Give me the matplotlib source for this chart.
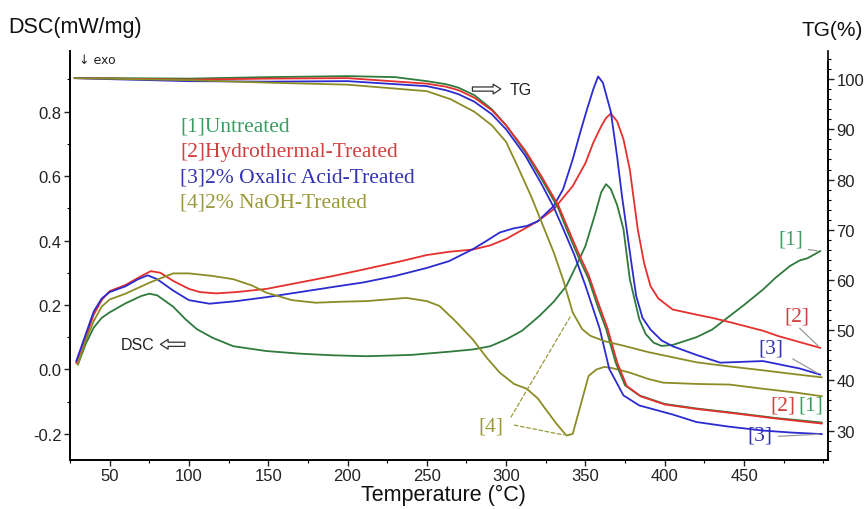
import numpy as np
import matplotlib.pyplot as plt
from matplotlib.ticker import MultipleLocator

plt.rcParams['font.family'] = ['Liberation Sans', 'DejaVu Sans']

# DSC curves (mW/mg), left axis
t_dsc_1 = [30, 35, 40, 45, 50, 60, 70, 75, 80, 90, 98, 105, 115, 128, 149, 170, 190, 212, 240, 264, 279,
           290, 300, 310, 321, 330, 338, 345, 350, 356, 360, 363, 366, 370, 374, 378, 384, 388, 393, 398,
           405, 420, 430, 441, 450, 462, 470, 479, 485, 490, 498]
dsc_1 = [0.015, 0.08, 0.13, 0.16, 0.177, 0.205, 0.228, 0.235, 0.23, 0.195, 0.155, 0.125, 0.098, 0.072,
         0.057, 0.049, 0.044, 0.041, 0.045, 0.055, 0.062, 0.072, 0.093, 0.12, 0.166, 0.21, 0.259, 0.33,
         0.383, 0.48, 0.55, 0.575, 0.56, 0.51, 0.435, 0.28, 0.155, 0.11, 0.083, 0.073, 0.076, 0.10, 0.124,
         0.166, 0.2, 0.248, 0.285, 0.321, 0.338, 0.345, 0.367]

t_dsc_2 = [29, 35, 40, 45, 50, 60, 70, 76, 82, 90, 100, 107, 117, 130, 149, 170, 191, 210, 233, 250, 264,
           279, 290, 300, 311, 320, 330, 342, 350, 355, 360, 363, 366, 370, 374, 378, 383, 387, 391, 396,
           405, 420, 430, 440, 451, 462, 472, 485, 498]
dsc_2 = [0.02, 0.10, 0.17, 0.215, 0.243, 0.262, 0.29, 0.305, 0.30, 0.275, 0.25, 0.24, 0.236, 0.24, 0.25,
         0.27, 0.29, 0.31, 0.335, 0.355, 0.365, 0.372, 0.385, 0.405, 0.435, 0.46, 0.497, 0.569, 0.64,
         0.704, 0.755, 0.78, 0.794, 0.77, 0.714, 0.62, 0.435, 0.33, 0.259, 0.22, 0.186, 0.17, 0.16, 0.148,
         0.134, 0.12, 0.103, 0.085, 0.067]

t_dsc_3 = [29, 35, 40, 45, 50, 60, 68, 74, 80, 90, 100, 113, 130, 150, 170, 191, 210, 230, 250, 264, 279,
           288, 296, 305, 313, 320, 330, 336, 342, 347, 351, 355, 358, 361, 366, 370, 373, 376, 379, 382,
           386, 391, 398, 405, 420, 435, 451, 462, 472, 485, 498]
dsc_3 = [0.026, 0.11, 0.18, 0.22, 0.24, 0.258, 0.28, 0.292, 0.28, 0.245, 0.215, 0.204, 0.212, 0.225, 0.24,
         0.256, 0.27, 0.29, 0.315, 0.336, 0.373, 0.40, 0.425, 0.438, 0.445, 0.46, 0.507, 0.56, 0.652, 0.74,
         0.807, 0.87, 0.909, 0.89, 0.80, 0.66, 0.54, 0.435, 0.33, 0.228, 0.16, 0.124, 0.09, 0.072, 0.045,
         0.021, 0.024, 0.026, 0.016, 0.003, -0.016]

t_dsc_4 = [30, 35, 40, 45, 50, 60, 75, 90, 100, 115, 128, 140, 149, 165, 180, 195, 212, 237, 250, 258, 268,
           279, 288, 296, 305, 313, 320, 325, 332, 338, 342, 347, 352, 357, 362, 366, 372, 378, 390, 399,
           420, 441, 462, 483, 499]
dsc_4 = [0.016, 0.09, 0.15, 0.195, 0.217, 0.235, 0.269, 0.298, 0.298, 0.29, 0.28, 0.26, 0.238, 0.215,
         0.207, 0.21, 0.212, 0.222, 0.212, 0.197, 0.15, 0.093, 0.035, -0.01, -0.045, -0.06, -0.09, -0.124,
         -0.17, -0.205, -0.2, -0.11, -0.02, 0.0, 0.008, 0.005, -0.002, -0.01, -0.03, -0.041, -0.045,
         -0.047, -0.06, -0.072, -0.083]

# TG curves (%), right axis
t_tg_1 = [28, 50, 100, 150, 200, 230, 250, 262, 270, 280, 291, 300, 312, 322, 333, 338, 345, 352, 358, 363,
          369, 375, 384, 400, 420, 442, 470, 499]
tg_1 = [100.2, 100.2, 100.1, 100.4, 100.6, 100.4, 99.6, 99.0, 98.3, 96.8, 94.0, 90.8, 85.5, 80.3, 74.2,
        70.2, 65.0, 60.2, 54.5, 50.3, 43.6, 39.0, 37.0, 35.3, 34.4, 33.6, 32.5, 31.6]

t_tg_2 = [28, 100, 150, 200, 250, 262, 270, 280, 291, 300, 312, 322, 333, 338, 345, 352, 358, 364, 370,
          376, 385, 400, 420, 442, 470, 499]
tg_2 = [100.2, 99.9, 100.1, 100.2, 99.1, 98.5, 97.8, 96.3, 93.8, 90.8, 85.8, 80.8, 74.8, 71.0, 65.8, 61.0,
        55.5, 50.3, 43.6, 38.9, 36.8, 35.2, 34.3, 33.5, 32.4, 31.4]

t_tg_3 = [28, 50, 100, 150, 200, 250, 262, 270, 280, 291, 300, 312, 322, 330, 336, 343, 350, 359, 365,
          374, 384, 405, 420, 440, 462, 480, 499]
tg_3 = [100.2, 100.0, 99.6, 99.5, 99.6, 98.6, 97.8, 97.0, 95.5, 93.0, 90.0, 84.8, 79.3, 74.5, 70.2, 65.0,
        58.9, 50.3, 42.3, 37.0, 35.0, 33.2, 31.7, 30.8, 30.0, 29.6, 29.3]

t_tg_4 = [28, 100, 150, 200, 250, 265, 280, 291, 300, 308, 316, 323, 330, 336, 342, 348, 353, 362, 374,
          390, 405, 420, 440, 462, 480, 499]
tg_4 = [100.2, 99.8, 99.3, 98.9, 97.6, 96.0, 93.5, 90.8, 87.5, 82.1, 76.5, 71.0, 65.5, 60.0, 53.5, 50.2,
        48.9, 47.8, 46.9, 45.6, 44.6, 43.6, 42.8, 42.0, 41.3, 40.6]

names = ['[1]Untreated', '[2]Hydrothermal-Treated', '[3]2% Oxalic Acid-Treated', '[4]2% NaOH-Treated']
line_cols = ['#2f7a3c', '#e5302d', '#2b2bd0', '#8c8c26']
text_cols = ['#3a9e62', '#d0403f', '#3434b0', '#9a9a3c']

fig = plt.figure(figsize=(8.68, 5.10), dpi=100)
ax = fig.add_axes([0.0806, 0.0967, 0.8734, 0.8013])
ax2 = ax.twinx()

dsc_t = [t_dsc_1, t_dsc_2, t_dsc_3, t_dsc_4]
dsc_v = [dsc_1, dsc_2, dsc_3, dsc_4]
tg_t = [t_tg_1, t_tg_2, t_tg_3, t_tg_4]
tg_v = [tg_1, tg_2, tg_3, tg_4]
for i in range(4):
    ax.plot(dsc_t[i], dsc_v[i], color=line_cols[i], lw=1.3)
    ax2.plot(tg_t[i], tg_v[i], color=line_cols[i], lw=1.3)

ax.set_xlim(25, 503)
ax.set_ylim(-0.28, 0.988)
ax2.set_ylim(24.2, 105.6)

ax.xaxis.set_minor_locator(MultipleLocator(25))
ax.yaxis.set_minor_locator(MultipleLocator(0.1))
ax2.set_yticks(range(30, 101, 10))
ax2.yaxis.set_minor_locator(MultipleLocator(2))
ax.set_xticks(range(50, 451, 50))
ax.set_yticks([-0.2, 0.0, 0.2, 0.4, 0.6, 0.8])
ax.set_yticklabels(['-0.2', '0.0', '0.2', '0.4', '0.6', '0.8'])

for a in (ax, ax2):
    a.spines['top'].set_visible(False)
    a.tick_params(which='major', length=4, width=1, labelsize=12, colors='#222222', pad=2)
    a.tick_params(which='minor', length=2, width=0.8)
ax2.spines['right'].set_bounds(24.2, 103.4)
for s in ('left', 'bottom', 'right'):
    ax2.spines[s].set_linewidth(1.2)
    ax.spines[s].set_linewidth(1.2)

fig.text(0.010, 1 - 28 / 510, 'DSC(mW/mg)', fontsize=15.5, va='center', ha='left', color='#111111')
fig.text(0.994, 1 - 30 / 510, 'TG(%)', fontsize=15, va='center', ha='right', color='#111111')
fig.text(443 / 868, 1 - 495 / 510, 'Temperature (°C)', fontsize=15.5, va='center', ha='center',
         color='#111111')

# legend-like labels
for i in range(4):
    ax.text(180 / 868, 1 - (127 + 25.3 * i) / 510, names[i], transform=fig.transFigure,
            family='Liberation Serif', fontsize=15.5, color=text_cols[i], va='center', ha='left')

ax.text(31, 0.963, '↓ exo', fontsize=9, color='#222222', va='center', ha='left',
        family='DejaVu Sans')

arrow = dict(arrowstyle='simple,head_length=0.55,head_width=0.7,tail_width=0.3', fc='white',
             ec='#333333', lw=0.9)
ax.annotate('', xy=(298.4, 0.87), xytext=(277.0, 0.87), arrowprops=arrow)
ax.text(302, 0.87, 'TG', fontsize=11.5, va='center', ha='left', color='#222222')
ax.annotate('', xy=(80.3, 0.078), xytext=(99.2, 0.078), arrowprops=arrow)
ax.text(78.4, 0.078, 'DSC', fontsize=11.5, va='center', ha='right', color='#222222')

lab = dict(family='Liberation Serif', fontsize=15.5, va='center', ha='center')
lead = dict(arrowstyle='-', color='#9a9a9a', lw=0.9)
ax.text(479.8, 0.404, '[1]', color=text_cols[0], **lab)
ax.annotate('', xy=(t_dsc_1[-1], dsc_1[-1]), xytext=(488.8, 0.373), arrowprops=lead)
ax.text(483.2, 0.166, '[2]', color=text_cols[1], **lab)
ax.annotate('', xy=(t_dsc_2[-1], dsc_2[-1]), xytext=(483.8, 0.134), arrowprops=lead)
ax.text(467.2, 0.067, '[3]', color=text_cols[2], **lab)
ax.annotate('', xy=(t_dsc_3[-1], dsc_3[-1]), xytext=(479.2, 0.037), arrowprops=lead)
ax.text(474.3, -0.109, '[2]', color=text_cols[1], **lab)
ax.text(492.4, -0.109, '[1]', color=text_cols[0], **lab)
ax.text(459.8, -0.202, '[3]', color=text_cols[2], **lab)
ax2.annotate('', xy=(t_tg_3[-1], tg_3[-1]), xytext=(469.9, -0.208), textcoords=ax.transData,
             arrowprops=lead)

ax.text(290.7, -0.176, '[4]', color=text_cols[3], **lab)
lead4 = dict(arrowstyle='-', color='#9a9a3c', lw=0.9, linestyle=(0, (3, 2)))
ax2.annotate('', xy=(342, 53.5), xytext=(302.2, -0.155), textcoords=ax.transData, arrowprops=lead4)
ax.annotate('', xy=(338, -0.205), xytext=(303.5, -0.171), arrowprops=lead4)

fig.savefig('out.png', dpi=100)
